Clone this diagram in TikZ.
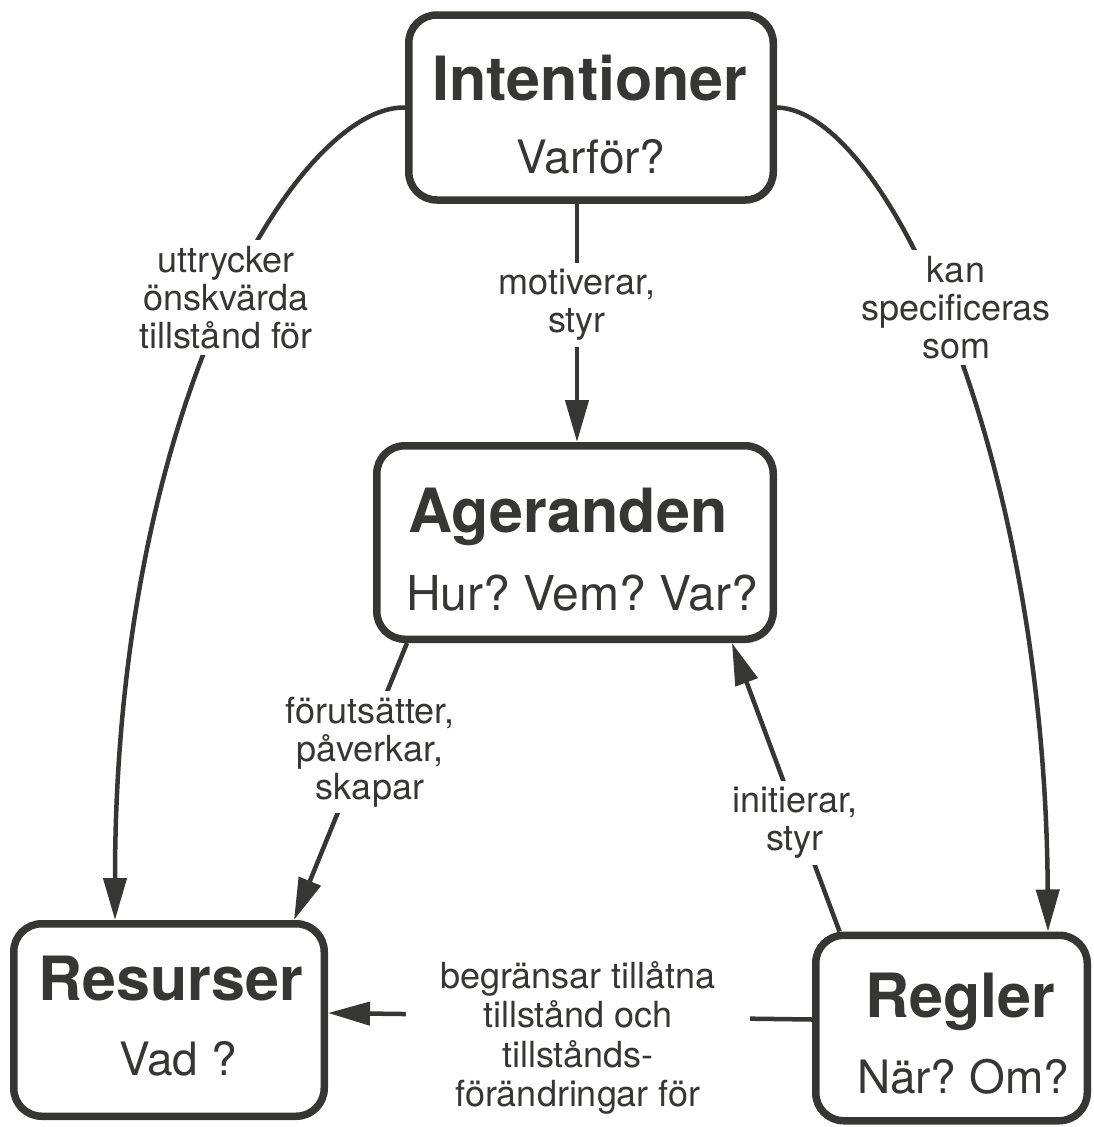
\documentclass[tikz,border=0pt]{standalone}
\usepackage{fontspec}
\setmainfont{TeX Gyre Heros}
\usetikzlibrary{arrows.meta,calc}
\definecolor{ink}{HTML}{363734}
\frenchspacing
\begin{document}
\begin{tikzpicture}[x=1pt,y=-1pt,
  box/.style={draw=ink, line width=7.5pt, rounded corners=28pt, fill=white, inner sep=0pt},
  title/.style={font=\bfseries\fontsize{61}{70}\selectfont, text=ink, anchor=base, inner sep=0pt},
  sub/.style={font=\fontsize{46}{52}\selectfont, text=ink, anchor=base, inner sep=0pt},
  conn/.style={draw=ink, line width=4.5pt, -{Triangle[length=42pt,width=23pt]}},
  lbl/.style={font=\fontsize{36}{38}\selectfont, text=ink, align=center, fill=white, inner sep=6pt}]
\useasboundingbox (0,0) rectangle (1093,1127);

% the four concept boxes
\node[box, minimum width=364.5pt, minimum height=185pt] (int) at (591,107.5) {};
\node[box, minimum width=396.5pt, minimum height=193.5pt] (age) at (575,542.5) {};
\node[box, minimum width=310.5pt, minimum height=192.5pt] (res) at (169,1020) {};
\node[box, minimum width=271.5pt, minimum height=185.5pt] (reg) at (951.5,1028) {};

\node[title] (intT) at (590,100) {Intentioner};
\node[sub]   (intS) at (591,173) {Varför?};
\node[title] (ageT) at (568,532) {Ageranden};
\node[sub, font=\fontsize{48}{52}\selectfont] (ageS) at (582,610) {Hur? Vem? Var?};
\node[title] (resT) at (171,1000) {Resurser};
\node[sub]   (resS) at (178,1075) {Vad ?};
\node[title] (regT) at (960,1017) {Regler};
\node[sub]   (regS) at (963,1093) {När? Om?};

% connectors
\draw[conn] (int.west) .. controls (300,105) and (115,400) .. ($(res.north)+(-54,0)$);
\draw[conn] ($(int.south)+(-14,0)$) -- ($(age.north)+(2,0)$);
\draw[conn] (int.east) .. controls (885,110) and (1045,450) .. ($(reg.north)+(96.5,0)$);
\draw[conn] ($(age.south)+(-168,0)$) -- ($(res.north)+(125,0)$);
\draw[conn] ($(reg.north)+(-112,0)$) -- ($(age.south)+(157,0)$);
\draw[conn] ($(reg.west)+(0,-8.5)$) -- ($(res.east)+(0,-7)$);

% connector labels
\node[lbl] (l1) at (226,297.5) {uttrycker\\önskvärda\\tillstånd för};
\node[lbl] (l2) at (577,305) {motiverar,\\styr};
\node[lbl] (l3) at (956,307.5) {kan\\specificeras\\som};
\node[lbl] (l4) at (370,752) {förutsätter,\\påverkar,\\skapar};
\node[lbl] (l5) at (795,823) {initierar,\\styr};
\node[lbl, font=\fontsize{36}{39.5}\selectfont, inner xsep=34pt] (l6) at (578,1038)
  {begränsar tillåtna\\tillstånd och\\tillstånds-\\förändringar för};
\end{tikzpicture}
\end{document}
